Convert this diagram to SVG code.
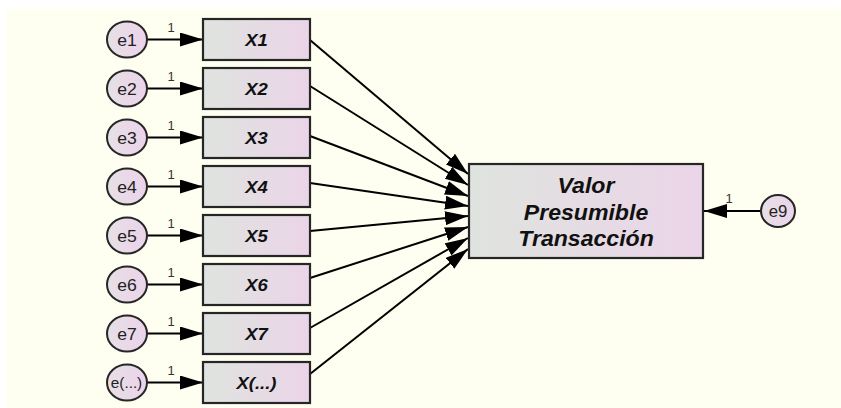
<svg xmlns="http://www.w3.org/2000/svg" width="841" height="408" viewBox="0 0 841 408">
  <defs>
    <linearGradient id="fillBox" x1="0" y1="0" x2="1" y2="0">
      <stop offset="0" stop-color="#dfe4df"/>
      <stop offset="1" stop-color="#ebd4e8"/>
    </linearGradient>
    <linearGradient id="fillErr" x1="0" y1="0" x2="1" y2="0">
      <stop offset="0" stop-color="#e6e0e6"/>
      <stop offset="1" stop-color="#ecd3ea"/>
    </linearGradient>
    <marker id="head" markerUnits="userSpaceOnUse" markerWidth="26" markerHeight="16" refX="23" refY="7" orient="auto">
      <path d="M0,0 L23,7 L0,14 z" fill="#000"/>
    </marker>
    <style>
      .box { fill: url(#fillBox); stroke: #262626; stroke-width: 2.2; }
      .err { fill: url(#fillErr); stroke: #262626; stroke-width: 2; }
      .var { font-family: "Liberation Sans", Arial, sans-serif; font-weight: bold; font-style: italic; font-size: 16.5px; fill: #111; text-anchor: middle; }
      .big { font-family: "Liberation Sans", Arial, sans-serif; font-weight: bold; font-style: italic; font-size: 22px; fill: #111; text-anchor: middle; }
      .elab { font-family: "Liberation Sans", Arial, sans-serif; font-size: 16px; fill: #222; text-anchor: middle; }
      .one { font-family: "Liberation Sans", Arial, sans-serif; font-size: 13px; fill: #333; text-anchor: middle; }
      .path { stroke: #000; stroke-width: 2; fill: none; marker-end: url(#head); }
    </style>
  </defs>

  <!-- canvas -->
  <rect x="0" y="0" width="841" height="408" fill="#ffffff"/>
  <rect x="6" y="9" width="835" height="399" fill="#fefff0"/>

  <!-- connectors -->
  <g id="connectors">
    <!-- error terms into observed variables -->
    <line class="path" x1="147" y1="39.5" x2="203" y2="39.5"/>
    <line class="path" x1="147" y1="88.5" x2="203" y2="88.5"/>
    <line class="path" x1="147" y1="137.5" x2="203" y2="137.5"/>
    <line class="path" x1="147" y1="186.5" x2="203" y2="186.5"/>
    <line class="path" x1="147" y1="235.5" x2="203" y2="235.5"/>
    <line class="path" x1="147" y1="284.5" x2="203" y2="284.5"/>
    <line class="path" x1="147" y1="333.5" x2="203" y2="333.5"/>
    <line class="path" x1="147" y1="382.5" x2="203" y2="382.5"/>
    <!-- observed variables into outcome -->
    <line class="path" x1="310" y1="40" x2="468" y2="174"/>
    <line class="path" x1="310" y1="86" x2="468" y2="185"/>
    <line class="path" x1="310" y1="136" x2="468" y2="196"/>
    <line class="path" x1="310" y1="183" x2="468" y2="206"/>
    <line class="path" x1="310" y1="231" x2="468" y2="216"/>
    <line class="path" x1="310" y1="278" x2="468" y2="227"/>
    <line class="path" x1="310" y1="328" x2="468" y2="238"/>
    <line class="path" x1="310" y1="374" x2="468" y2="249"/>
    <!-- residual of outcome -->
    <line class="path" x1="761" y1="211" x2="704" y2="211"/>
    <!-- fixed loadings -->
    <text class="one" x="171" y="32">1</text>
    <text class="one" x="171" y="81">1</text>
    <text class="one" x="171" y="130">1</text>
    <text class="one" x="171" y="179">1</text>
    <text class="one" x="171" y="228">1</text>
    <text class="one" x="171" y="277">1</text>
    <text class="one" x="171" y="326">1</text>
    <text class="one" x="171" y="375">1</text>
    <text class="one" x="729" y="203">1</text>
  </g>

  <!-- error terms -->
  <g id="e1"><ellipse class="err" cx="127" cy="39.5" rx="20" ry="18"/><text class="elab" transform="translate(127,45.5) scale(1.1,1)">e1</text></g>
  <g id="e2"><ellipse class="err" cx="127" cy="88.5" rx="20" ry="18"/><text class="elab" transform="translate(127,94.5) scale(1.1,1)">e2</text></g>
  <g id="e3"><ellipse class="err" cx="127" cy="137.5" rx="20" ry="18"/><text class="elab" transform="translate(127,143.5) scale(1.1,1)">e3</text></g>
  <g id="e4"><ellipse class="err" cx="127" cy="186.5" rx="20" ry="18"/><text class="elab" transform="translate(127,192.5) scale(1.1,1)">e4</text></g>
  <g id="e5"><ellipse class="err" cx="127" cy="235.5" rx="20" ry="18"/><text class="elab" transform="translate(127,241.5) scale(1.1,1)">e5</text></g>
  <g id="e6"><ellipse class="err" cx="127" cy="284.5" rx="20" ry="18"/><text class="elab" transform="translate(127,290.5) scale(1.1,1)">e6</text></g>
  <g id="e7"><ellipse class="err" cx="127" cy="333.5" rx="20" ry="18"/><text class="elab" transform="translate(127,339.5) scale(1.1,1)">e7</text></g>
  <g id="e-more"><ellipse class="err" cx="127" cy="382.5" rx="20" ry="18"/><text class="elab" transform="translate(126.5,388) scale(1.02,1)" style="font-size:15px">e(...)</text></g>
  <g id="e9"><ellipse class="err" cx="778" cy="211" rx="17" ry="16"/><text class="elab" transform="translate(778,217) scale(1.05,1)">e9</text></g>

  <!-- observed variables -->
  <g id="X1"><rect class="box" x="203" y="19" width="107" height="41"/><text class="var" transform="translate(256.5,45.5) scale(1.12,1)">X1</text></g>
  <g id="X2"><rect class="box" x="203" y="68" width="107" height="41"/><text class="var" transform="translate(256.5,94.5) scale(1.12,1)">X2</text></g>
  <g id="X3"><rect class="box" x="203" y="117" width="107" height="41"/><text class="var" transform="translate(256.5,143.5) scale(1.12,1)">X3</text></g>
  <g id="X4"><rect class="box" x="203" y="166" width="107" height="41"/><text class="var" transform="translate(256.5,192.5) scale(1.12,1)">X4</text></g>
  <g id="X5"><rect class="box" x="203" y="215" width="107" height="41"/><text class="var" transform="translate(256.5,241.5) scale(1.12,1)">X5</text></g>
  <g id="X6"><rect class="box" x="203" y="264" width="107" height="41"/><text class="var" transform="translate(256.5,290.5) scale(1.12,1)">X6</text></g>
  <g id="X7"><rect class="box" x="203" y="313" width="107" height="41"/><text class="var" transform="translate(256.5,339.5) scale(1.12,1)">X7</text></g>
  <g id="X-more"><rect class="box" x="203" y="362" width="107" height="41"/><text class="var" transform="translate(256.5,388.5) scale(1.12,1)">X(...)</text></g>

  <!-- outcome -->
  <g id="valor">
    <rect class="box" x="469" y="164" width="234" height="94"/>
    <text class="big" transform="translate(586,193) scale(1.05,1)">Valor</text>
    <text class="big" transform="translate(586,219.5) scale(1.05,1)">Presumible</text>
    <text class="big" transform="translate(586,245.5) scale(1.05,1)">Transacción</text>
  </g>
</svg>
